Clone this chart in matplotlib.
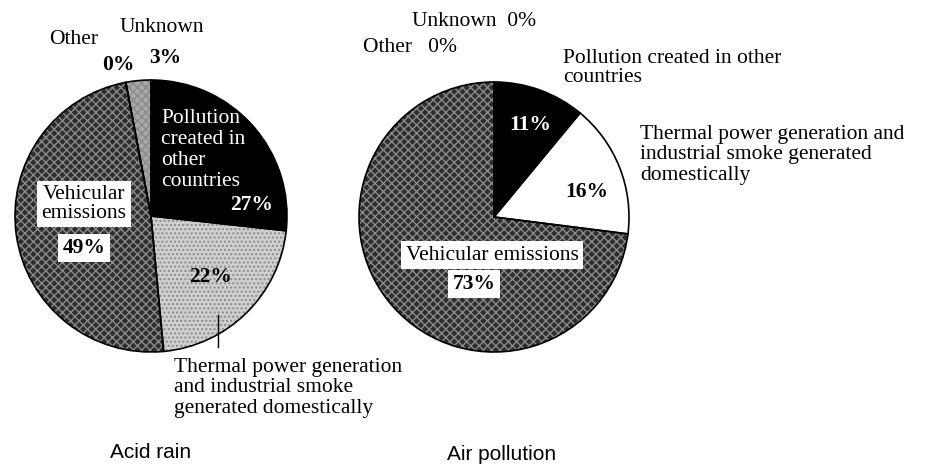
import matplotlib.pyplot as plt

# values (percent)
categories = ['Pollution created in other countries',
              'Thermal power generation and industrial smoke generated domestically',
              'Vehicular emissions', 'Other', 'Unknown']
acid_rain = [27, 22, 49, 0, 3]
air_pollution = [11, 16, 73, 0, 0]
titles = ['Acid rain', 'Air pollution']

W, H = 925, 467
serif = 'Liberation Serif'
sans = 'Liberation Sans'

fig = plt.figure(figsize=(W / 100, H / 100), dpi=100)
ax = fig.add_axes([0, 0, 1, 1])


def Y(y):
    # positions measured from the top of the picture
    return H - y


def draw_pie(values, center, radius, faces, hatches):
    wedges, _ = ax.pie(values, center=(center[0], Y(center[1])), radius=radius,
                       startangle=90, counterclock=False,
                       wedgeprops=dict(linewidth=0))
    for w, fc, hc in zip(wedges, faces, hatches):
        w.set_facecolor(fc)
        if hc:
            w.set_hatch(hc)
            w.set_edgecolor('#8a8a8a')
            w.set_linewidth(0)
    # black outlines on top
    ax.pie(values, center=(center[0], Y(center[1])), radius=radius,
           startangle=90, counterclock=False,
           wedgeprops=dict(facecolor='none', edgecolor='black', linewidth=1.2))


dark = '#2e2e2e'
draw_pie(acid_rain, (151, 216), 136,
         ['black', '#cfcfcf', dark, dark, '#a8a8a8'],
         [None, '....', 'xxxx', 'xxxx', 'xxxx'])
draw_pie(air_pollution, (494, 217), 135,
         ['black', 'white', dark, dark, dark],
         [None, None, 'xxxx', 'xxxx', 'xxxx'])

fs = 15.5
box = dict(facecolor='white', edgecolor='none', pad=3)

# acid rain labels
ax.text(74, Y(40), 'Other', fontsize=fs, family=serif, ha='center', va='center')
ax.text(162, Y(27), 'Unknown', fontsize=fs, family=serif, ha='center', va='center')
ax.text(118, Y(65), '0%', fontsize=fs, family=serif, weight='bold', ha='center', va='center')
ax.text(165, Y(58), '3%', fontsize=fs, family=serif, weight='bold', ha='center', va='center')
ax.text(161, Y(150), 'Pollution\ncreated in\nother\ncountries', fontsize=fs, family=serif,
        color='white', ha='left', va='center', linespacing=1.13)
ax.text(252, Y(205), '27%', fontsize=fs, family=serif, weight='bold', color='white',
        ha='center', va='center')
ax.text(84, Y(204), 'Vehicular\nemissions', fontsize=fs, family=serif, ha='center',
        va='center', linespacing=1.05, bbox=box)
ax.text(84, Y(248), '49%', fontsize=fs, family=serif, weight='bold', ha='center',
        va='center', bbox=box)
ax.text(210, Y(277), '22%', fontsize=fs, family=serif, weight='bold', ha='center', va='center')
ax.plot([218, 218], [Y(315), Y(347)], color='black', lw=1)
ax.text(174, Y(388), 'Thermal power generation\nand industrial smoke\ngenerated domestically',
        fontsize=fs, family=serif, ha='left', va='center', linespacing=1.13)
ax.text(151, Y(453), titles[0], fontsize=15, family=sans, ha='center', va='center')

# air pollution labels
ax.text(412, Y(21), 'Unknown  0%', fontsize=fs, family=serif, ha='left', va='center')
ax.text(363, Y(48), 'Other   0%', fontsize=fs, family=serif, ha='left', va='center')
ax.text(563, Y(68), 'Pollution created in other\ncountries', fontsize=fs, family=serif,
        ha='left', va='center', linespacing=1.0)
ax.text(530, Y(125), '11%', fontsize=fs, family=serif, weight='bold', color='white',
        ha='center', va='center')
ax.text(640, Y(155), 'Thermal power generation and\nindustrial smoke generated\ndomestically',
        fontsize=fs, family=serif, ha='left', va='center', linespacing=1.1)
ax.text(587, Y(192), '16%', fontsize=fs, family=serif, weight='bold', ha='center', va='center')
ax.text(492, Y(255), 'Vehicular emissions', fontsize=fs, family=serif, ha='center',
        va='center', bbox=box)
ax.text(474, Y(284), '73%', fontsize=fs, family=serif, weight='bold', ha='center',
        va='center', bbox=box)
ax.text(502, Y(455), titles[1], fontsize=15, family=sans, ha='center', va='center')

ax.set_xlim(0, W)
ax.set_ylim(0, H)
ax.set_aspect('equal')
ax.axis('off')

fig.savefig('out.png', dpi=100)
